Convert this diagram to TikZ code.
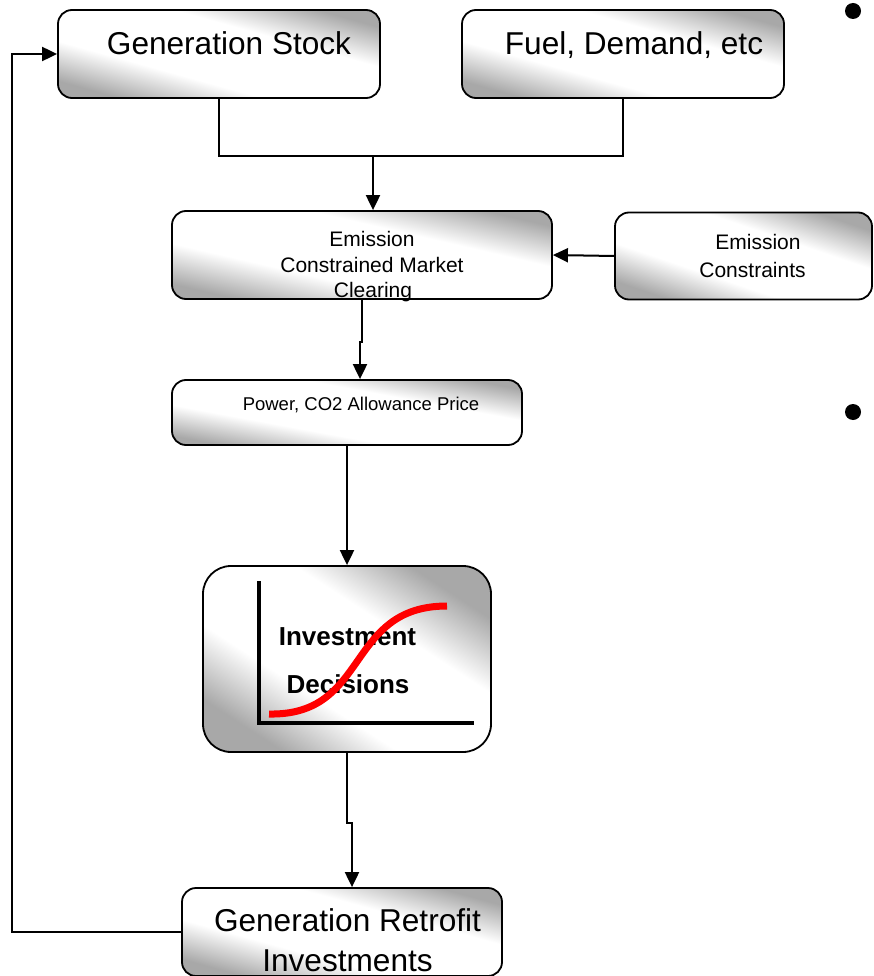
\documentclass[tikz,border=0pt]{standalone}
\usepackage{fontspec}
\setmainfont{Liberation Sans}
\usetikzlibrary{arrows.meta}
\definecolor{boxgray}{HTML}{A8A8A8}
% grey at two opposite corners, a broad white band along the other diagonal
\pgfdeclareverticalshading{diagband}{100bp}{%
  color(0bp)=(boxgray); color(25bp)=(boxgray); color(39bp)=(white);
  color(61bp)=(white); color(75bp)=(boxgray); color(100bp)=(boxgray)}
\begin{document}
\begin{tikzpicture}[x=1pt,y=-1pt,
  box/.style={draw=black, line width=1.8pt, rounded corners=14pt,
    shading=diagband, shading angle=-45, inner sep=0pt},
  link/.style={line width=2pt},
  arr/.style={link, -{Triangle[length=15pt,width=14pt]}},
  txt/.style={inner sep=0pt, anchor=base},
  big/.style={txt, font=\fontsize{31.6}{38}\selectfont},
  mid/.style={txt, font=\fontsize{21}{25}\selectfont},
  small/.style={txt, font=\fontsize{18.5}{22}\selectfont},
  bold/.style={txt, font=\fontsize{26}{31}\selectfont\bfseries},
]
\useasboundingbox (0,0) rectangle (873,976);

% boxes; the shading band follows each box's falling diagonal
\node[box, shading angle=-15.5, minimum width=322pt, minimum height=88pt] (gs) at (219,54) {};
\node[box, shading angle=-15.5, minimum width=322pt, minimum height=88pt] (fuel) at (623,54) {};
\node[box, shading angle=-13, minimum width=380pt, minimum height=88pt] (ecmc) at (362,255) {};
\node[box, shading angle=-18.7, minimum width=257pt, minimum height=87pt] (ec) at (743.5,256) {};
\node[box, shading angle=-10.5, minimum width=350pt, minimum height=65pt] (power) at (347,412.5) {};
\node[box, shading angle=-33, minimum width=288pt, minimum height=186pt, rounded corners=28pt] (inv) at (347,659) {};
\node[box, shading angle=-15.4, minimum width=320pt, minimum height=88pt] (gri) at (342,932) {};

% labels
\node[big] (gsT) at (229,55) {Generation Stock};
\node[big] (fuelT) at (634,55) {Fuel, Demand, etc};
\node[mid] (ecmcA) at (372,247) {Emission};
\node[mid] (ecmcB) at (372,272.5) {Constrained Market};
\node[mid] (ecmcC) at (373,297) {Clearing};
\node[mid] (ecA) at (758,250) {Emission};
\node[mid] (ecB) at (752.5,277) {Constraints};
\node[small] (powerT) at (361,410.5) {Power, CO2 Allowance Price};
\node[big] (griA) at (347.5,931) {Generation Retrofit};
\node[big] (griB) at (347.5,971.5) {Investments};

% chart inside the investment box
\draw[line width=3.5pt] (259,581) -- (259,723) -- (474,723);
\node[bold] (invA) at (347.5,645) {Investment};
\node[bold] (invB) at (348,693) {Decisions};
\draw[red, line width=7pt] (269,714) .. controls (370,716) and (345,606) .. (447,606);

% connectors
\coordinate (join) at (373,156);
\draw[link] (gs.south) |- (join) -| (fuel.south);
\draw[arr] (join) -- (join |- ecmc.north);
\draw[arr] (ec.west) -- (ecmc.east);
\draw[arr] (ecmc.south) -- ++(0,42) -| ([xshift=13pt]power.north);
\draw[arr] (power.south) -- (inv.north);
\draw[arr] (inv.south) -- ++(0,70) -| ([xshift=10pt]gri.north);
\coordinate (fb) at (12,932);
\draw[arr] (gri.west) -- (fb) |- (gs.west);

% bullets
\fill (853,11) circle[radius=8pt];
\fill (853,412) circle[radius=8pt];
\end{tikzpicture}
\end{document}
